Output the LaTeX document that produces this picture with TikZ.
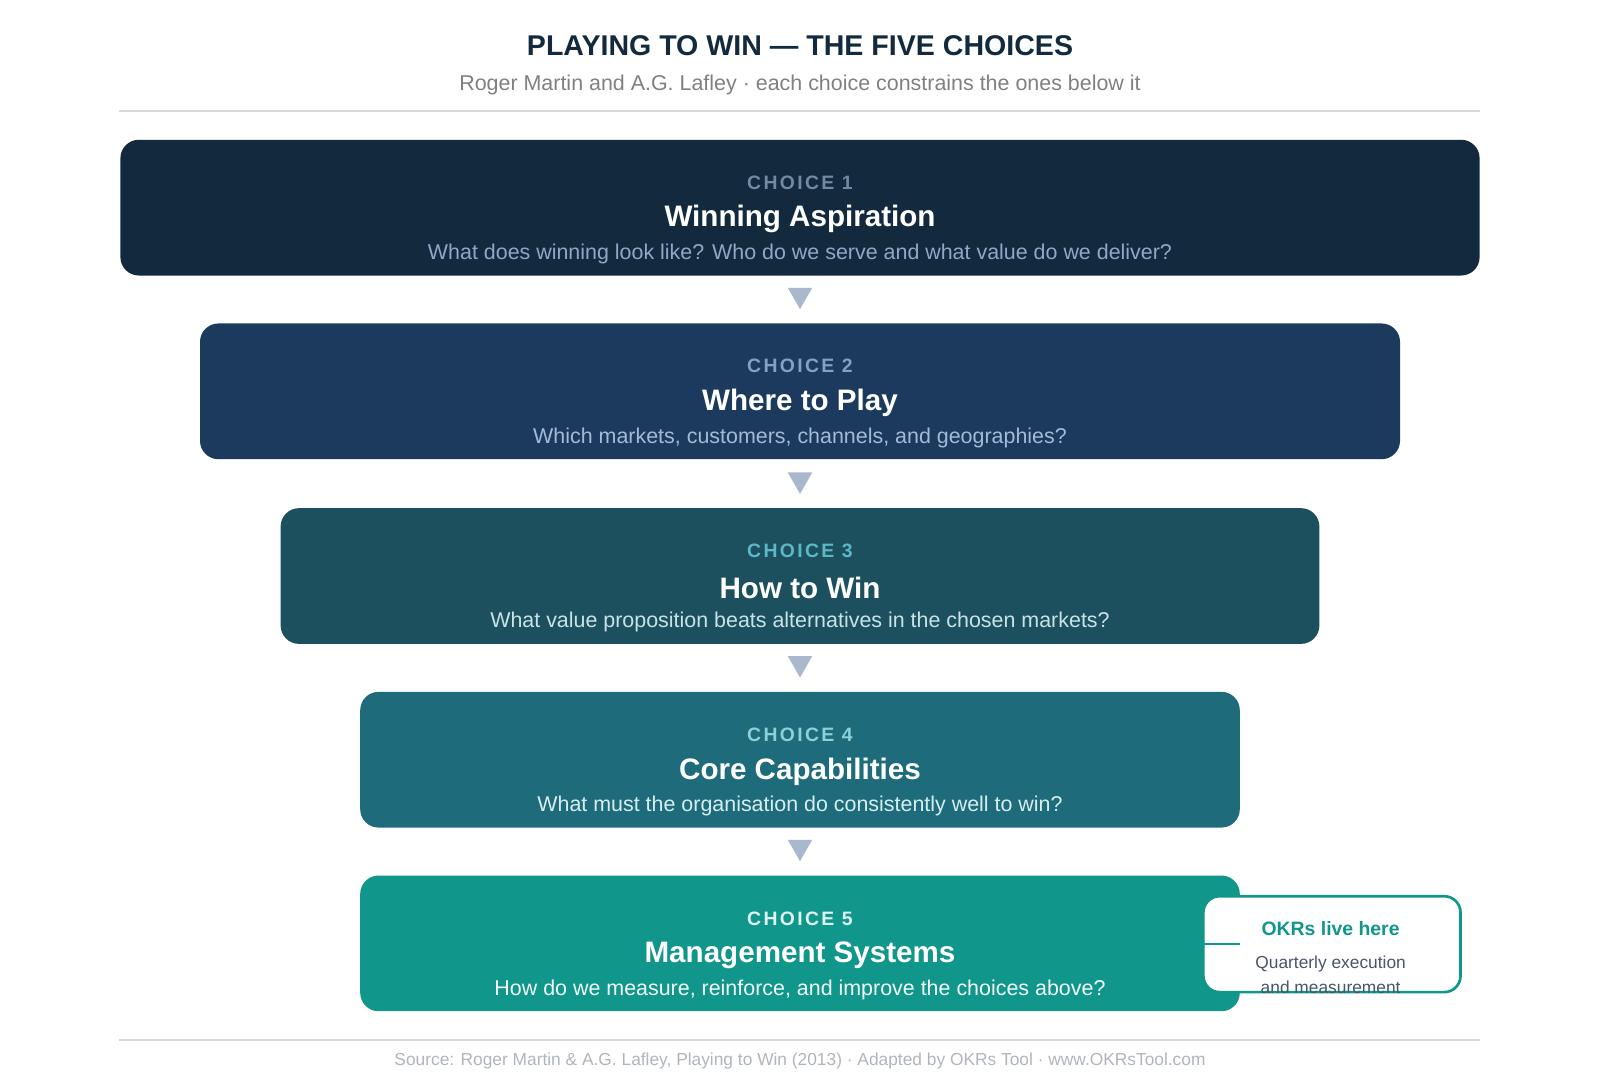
\documentclass[tikz,border=0pt]{standalone}
\usepackage{fontspec}
\setmainfont{Liberation Sans}
\usetikzlibrary{positioning, calc}

\definecolor{inkdark}{HTML}{132A3E}
\definecolor{cOne}{HTML}{132A3E}
\definecolor{cTwo}{HTML}{1C3A5E}
\definecolor{cThree}{HTML}{1D505E}
\definecolor{cFour}{HTML}{1D6B7B}
\definecolor{cFive}{HTML}{10968A}
\definecolor{tipgrey}{HTML}{A9B8CC}
\definecolor{rulegrey}{HTML}{D5D9DE}
\definecolor{calloutgrey}{HTML}{4A5568}
\definecolor{footgrey}{HTML}{B0B5BB}

\begin{document}
\begin{tikzpicture}[
            x = 0.5pt, y = -0.5pt, % pixel grid, y downward
            choice/.style = {rounded corners = 9pt},
            kicker/.style = {font = \fontsize{9.5}{11}\selectfont\bfseries\addfontfeature{LetterSpace=12}},
            head/.style = {font = \fontsize{14.5}{17}\selectfont\bfseries, text = white},
            ask/.style = {font = \fontsize{10.5}{12}\selectfont},
            tip/.style = {fill = tipgrey}
        ]

        \useasboundingbox (0,0) rectangle (1568,1058);

        % header
        \node[font = \fontsize{14}{17}\selectfont\bfseries, text = inkdark] (title) at (784,45) {PLAYING TO WIN — THE FIVE CHOICES};
        \node[font = \fontsize{10.5}{12}\selectfont, text = gray] (sub) at (784,83) {Roger Martin and A.G. Lafley · each choice constrains the ones below it};
        \draw[rulegrey, line width = 1pt] (117,109) -- (1450,109);

        % the five choices
        \foreach \i/\xa/\xb/\ya/\col/\kc/\qc/\name/\ask in {
            1/118/1450/137/cOne/6F8AA3/8FA8C8/Winning Aspiration/What does winning look like? Who do we serve and what value do we deliver?,
            2/196/1372/317/cTwo/7FA3C0/A3BBD6/Where to Play/{Which markets, customers, channels, and geographies?},
            3/275/1293/498/cThree/5CB8C6/C7E3E8/How to Win/What value proposition beats alternatives in the chosen markets?,
            4/353/1215/678/cFour/8FCFD6/D6EEF0/Core Capabilities/What must the organisation do consistently well to win?,
            5/353/1215/858/cFive/E0F5F2/F2FBFA/Management Systems/{How do we measure, reinforce, and improve the choices above?}} {
            \definecolor{kcol}{HTML}{\kc}
            \definecolor{qcol}{HTML}{\qc}
            \fill[choice, \col] (\xa,\ya) rectangle (\xb,\ya+133);
            \coordinate (c\i) at ({(\xa+\xb)/2},\ya);
            \node[kicker, text = kcol] (k\i) at ($(c\i)+(0,42)$) {CHOICE \i};
            \node[head] (h\i) at ($(c\i)+(0,78)$) {\name};
            \node[ask, text = qcol] (q\i) at ($(c\i)+(0,112)$) {\ask};
        }

        % down tips between choices
        \foreach \i in {2,...,5} {
            \fill[tip] ($(c\i)+(-12,-35)$) -- ($(c\i)+(12,-35)$) -- ($(c\i)+(0,-14)$) -- cycle;
        }

        % callout
        \node[draw = cFive, line width = 1.3pt, fill = white, rounded corners = 8pt,
              minimum width = 126pt, minimum height = 47pt, anchor = north west] (okr) at (1178,877) {};
        \node[font = \fontsize{9.5}{11}\selectfont\bfseries, text = cFive] (okrt) at (1304,910) {OKRs live here};
        \node[font = \fontsize{8.5}{12}\selectfont, text = calloutgrey, align = center, anchor = north] (okrb) at (1304,930) {Quarterly execution\\and measurement};
        \coordinate (tap) at (1215,925);
        \draw[cFive, line width = 1.3pt] (okr.west |- tap) -- (tap);

        % footer
        \draw[rulegrey, line width = 1pt] (117,1019) -- (1450,1019);
        \node[font = \fontsize{8.5}{10}\selectfont, text = footgrey] (src) at (784,1040) {Source: Roger Martin \& A.G. Lafley, Playing to Win (2013) · Adapted by OKRs Tool · www.OKRsTool.com};

\end{tikzpicture}
\end{document}
